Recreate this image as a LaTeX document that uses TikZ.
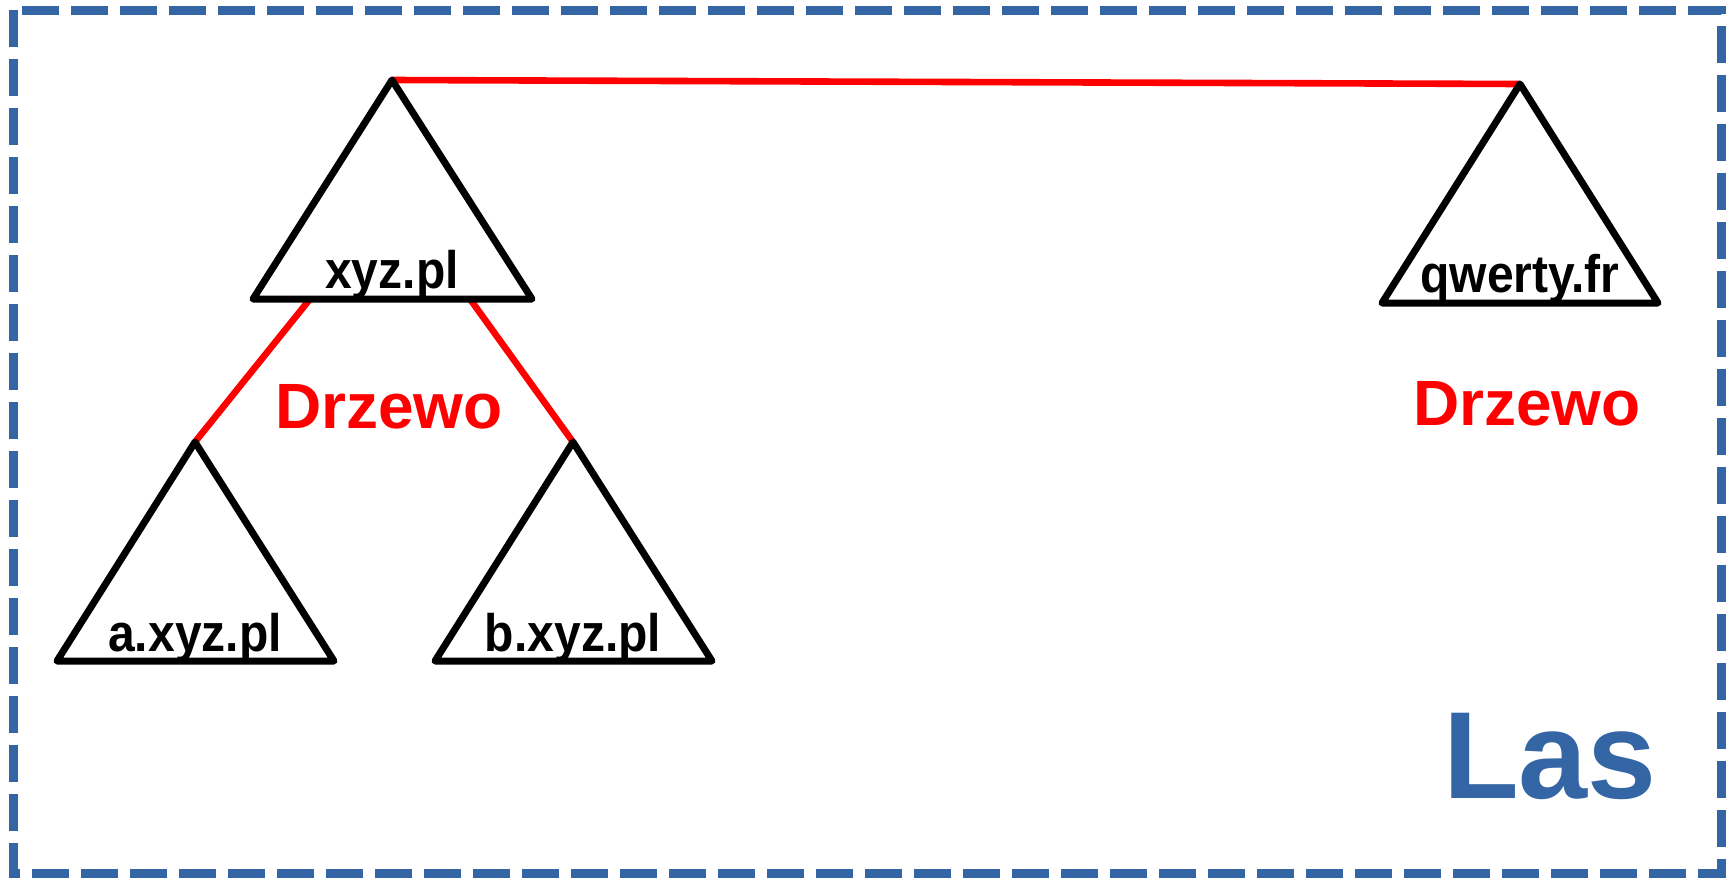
\documentclass[tikz,border=0pt]{standalone}
\usepackage{fontspec}
\setmainfont{Liberation Sans}
\usepackage{tikz}
\usetikzlibrary{positioning}

\definecolor{lasblue}{RGB}{52,101,164}

\tikzset{
    trojkat/.style={black,line width=3.5pt,line join=round,line cap=round},
    polaczenie/.style={red,line width=3.3pt},
    ramka/.style={lasblue,line width=4.5pt,dash pattern=on 18.5pt off 6pt},
    etykieta/.style={anchor=base,inner sep=0pt,font=\bfseries\fontsize{24}{28}\selectfont},
    drzewo/.style={anchor=base,inner sep=0pt,red,font=\bfseries\fontsize{32}{36}\selectfont}
}

\begin{document}
\begin{tikzpicture}[x=0.5pt,y=-0.5pt]
        \useasboundingbox (0,0) rectangle (1726,878);

        \draw[ramka] (13,10) rectangle (1721,873);

        % wierzcholki drzew
        \coordinate (xyz-top) at (392,80);
        \coordinate (xyz-l) at (253,299);
        \coordinate (xyz-r) at (532,299);
        \coordinate (qw-top) at (1520,84);
        \coordinate (qw-l) at (1382,303);
        \coordinate (qw-r) at (1658,303);
        \coordinate (a-top) at (195,442);
        \coordinate (a-l) at (57,661);
        \coordinate (a-r) at (334,661);
        \coordinate (b-top) at (573,442);
        \coordinate (b-l) at (435,661);
        \coordinate (b-r) at (712,661);
        \coordinate (xyz-la) at (310,299);
        \coordinate (xyz-ra) at (470,299);

        \draw[polaczenie] (xyz-top) -- (qw-top);
        \draw[polaczenie] (xyz-la) -- (a-top);
        \draw[polaczenie] (xyz-ra) -- (b-top);

        \draw[trojkat] (xyz-l) -- (xyz-top) -- (xyz-r) -- cycle;
        \draw[trojkat] (qw-l) -- (qw-top) -- (qw-r) -- cycle;
        \draw[trojkat] (a-l) -- (a-top) -- (a-r) -- cycle;
        \draw[trojkat] (b-l) -- (b-top) -- (b-r) -- cycle;

        \node[etykieta] (xyz) at (392,288) {\scalebox{1}[1.1]{xyz.pl}};
        \node[etykieta] (qw) at (1520,292) {\scalebox{1}[1.1]{qwerty.fr}};
        \node[etykieta] (a) at (195,651) {\scalebox{1}[1.1]{a.xyz.pl}};
        \node[etykieta] (b) at (573,651) {\scalebox{1}[1.1]{b.xyz.pl}};

        \node[drzewo] (drzewo1) at (389,428) {Drzewo};
        \node[drzewo] (drzewo2) at (1527,425) {Drzewo};

        \node[anchor=base,inner sep=0pt,lasblue,font=\bfseries\fontsize{62}{70}\selectfont] (las) at (1550,798) {Las};
    \end{tikzpicture}
\end{document}
